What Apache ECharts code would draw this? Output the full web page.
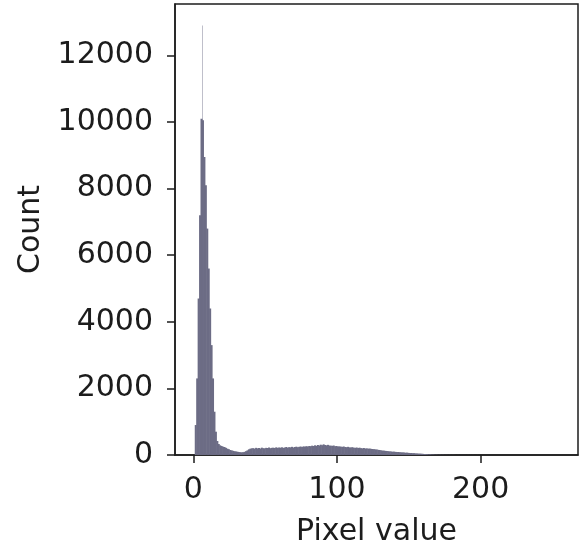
<!DOCTYPE html>
<html>
<head>
<meta charset="utf-8">
<script src="https://cdn.jsdelivr.net/npm/echarts@6/dist/echarts.min.js"></script>
<style>
  html, body { margin: 0; padding: 0; background: #fff; }
  #chart { width: 581px; height: 552px; }
</style>
</head>
<body>
<div id="chart"></div>
<script>
// histogram counts, one bin per pixel value 0..255
const counts = [
  0, 900, 2300, 4700, 7200, 10100, 10050, 8950, 8100, 6800,
  5600, 4400, 3300, 2300, 1300, 700, 420, 330, 290, 270,
  250, 240, 215, 190, 175, 150, 140, 125, 115, 105,
  100, 90, 85, 80, 85, 95, 115, 140, 170, 190,
  200, 205, 190, 215, 200, 210, 195, 220, 205, 200,
  215, 210, 225, 205, 215, 220, 210, 230, 215, 225,
  220, 230, 215, 225, 240, 220, 235, 230, 245, 225,
  240, 250, 235, 245, 255, 240, 260, 250, 265, 255,
  270, 265, 280, 270, 290, 275, 300, 285, 310, 295,
  320, 300, 290, 305, 285, 280, 275, 285, 265, 270,
  255, 260, 250, 245, 255, 240, 235, 245, 230, 225,
  235, 220, 215, 225, 210, 220, 205, 200, 210, 195,
  200, 190, 195, 185, 180, 175, 170, 165, 155, 150,
  140, 135, 130, 125, 120, 115, 110, 105, 100, 100,
  95, 90, 90, 85, 80, 80, 75, 70, 70, 65,
  60, 60, 55, 55, 50, 45, 45, 40, 40, 35,
  30, 30, 25, 20, 18, 15, 12, 10, 8, 7,
  6, 5, 5, 4, 4, 3, 3, 3, 2, 2,
  2, 2, 1, 1, 1, 1, 1, 1, 1, 1,
  1, 1, 1, 0, 1, 0, 0, 1, 0, 0,
  0, 0, 0, 0, 0, 0, 0, 0, 0, 0,
  0, 0, 0, 0, 0, 0, 0, 0, 0, 0,
  0, 0, 0, 0, 0, 0, 0, 0, 0, 0,
  0, 0, 0, 0, 0, 0, 0, 0, 0, 0,
  0, 0, 0, 0, 0, 0, 0, 0, 0, 0,
  0, 0, 0, 0, 0, 0
]
// one very narrow bin near the peak (shows as a faint spike)
const spikeBins = [[6.3, 6.6, 12900]]

const xTicks = [0, 100, 200]
const yTicks = [0, 2000, 4000, 6000, 8000, 10000, 12000]

const barColor = '#6c6c85'
const ink = '#1c1c1c'
const font = 'DejaVu Sans'

const binRenderer = (overlap) => (params, api) => {
  const p0 = api.coord([api.value(0), api.value(2)])
  const p1 = api.coord([api.value(1), 0])
  return {
    type: 'rect',
    // overlap lets each bar tuck under the next one, so no seams between bins
    shape: { x: p0[0], y: p0[1], width: p1[0] - p0[0] + overlap, height: p1[1] - p0[1] },
    style: { fill: barColor }
  }
}

const chart = echarts.init(document.getElementById('chart'))
chart.setOption({
  animation: false,
  grid: {
    left: 175, right: 3, top: 4, bottom: 97,
    show: true, borderColor: ink, borderWidth: 1.5, backgroundColor: 'transparent'
  },
  xAxis: {
    type: 'value',
    min: -12.75, max: 267.75,
    name: 'Pixel value',
    nameLocation: 'middle',
    nameGap: 62,
    nameTextStyle: { color: ink, fontSize: 30, fontFamily: font },
    axisLine: { show: true, onZero: false, lineStyle: { color: ink, width: 1.5 } },
    axisTick: { show: true, length: 8, customValues: xTicks, lineStyle: { color: ink, width: 1.5 } },
    axisLabel: { customValues: xTicks, color: ink, fontSize: 30, fontFamily: font, margin: 20 },
    splitLine: { show: false }
  },
  yAxis: {
    type: 'value',
    min: 0, max: 13545,
    name: 'Count',
    nameLocation: 'middle',
    nameGap: 122,
    nameTextStyle: { color: ink, fontSize: 30, fontFamily: font },
    axisLine: { show: true, onZero: false, lineStyle: { color: ink, width: 1.5 } },
    axisTick: { show: true, length: 8, customValues: yTicks, lineStyle: { color: ink, width: 1.5 } },
    axisLabel: {
      customValues: yTicks, color: ink, fontSize: 30, fontFamily: font, margin: 22,
      formatter: v => String(v)
    },
    splitLine: { show: false }
  },
  series: [
    {
      type: 'custom',
      renderItem: binRenderer(0),
      encode: { x: [0, 1], y: 2 },
      data: spikeBins
    },
    {
      type: 'custom',
      renderItem: binRenderer(0.6),
      encode: { x: [0, 1], y: 2 },
      data: counts.map((c, v) => [v, v + 1, c])
    }
  ]
})
</script>
</body>
</html>
